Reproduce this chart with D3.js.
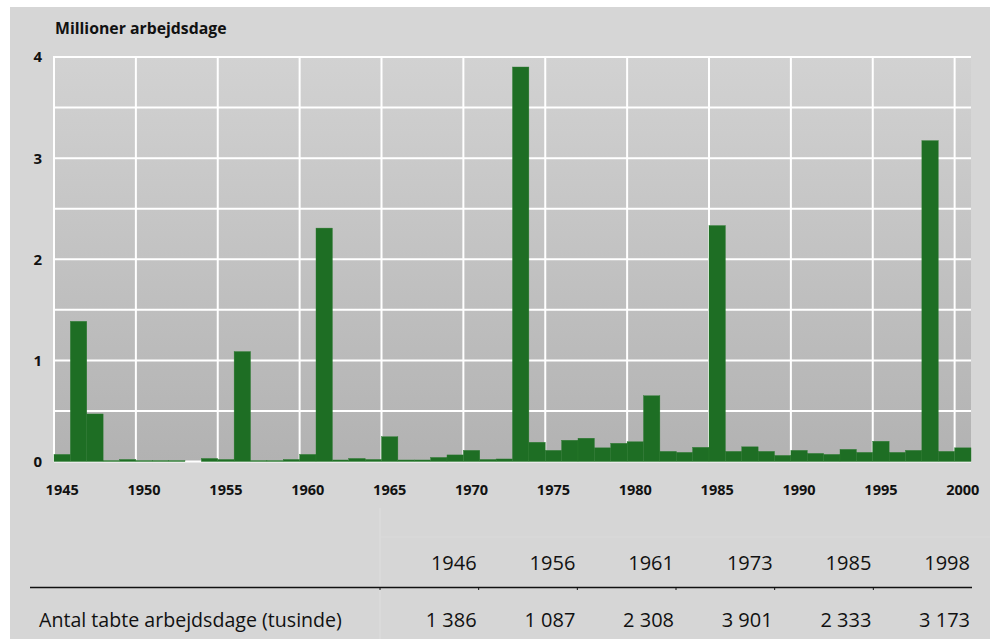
<!DOCTYPE html>
<html>
<head>
<meta charset="utf-8">
<script src="https://cdn.jsdelivr.net/npm/d3@7"></script>
<style>
  body { margin: 0; background: #fff; }
  svg { display: block; font-family: "Open Sans", sans-serif; }
</style>
</head>
<body>
<svg id="chart" width="996" height="639"></svg>
<script>
// tabte arbejdsdage, mio., 1945-2000
var years = d3.range(1945, 2001);
var values = [
  0.07, 1.386, 0.47, 0.01, 0.02, 0.01, 0.01, 0.01, 0, 0.03,
  0.02, 1.087, 0.01, 0.01, 0.02, 0.07, 2.308, 0.015, 0.03, 0.02,
  0.245, 0.015, 0.015, 0.04, 0.065, 0.11, 0.02, 0.025, 3.901, 0.19,
  0.11, 0.21, 0.23, 0.135, 0.18, 0.195, 0.65, 0.10, 0.09, 0.14,
  2.333, 0.10, 0.145, 0.10, 0.06, 0.11, 0.08, 0.07, 0.12, 0.09,
  0.20, 0.09, 0.11, 3.173, 0.10, 0.135
];
var xTicks = d3.range(1945, 2001, 5);
var yTicks = [0, 1, 2, 3, 4];
var yGrid = d3.range(0, 4.01, 0.5);

var tableYears = [1946, 1956, 1961, 1973, 1985, 1998];
var tableValues = [1386, 1087, 2308, 3901, 2333, 3173];
var rowLabel = "Antal tabte arbejdsdage (tusinde)";

var svg = d3.select("#chart");
var green = "#1e6e24";

var x = d3.scaleLinear().domain([1945, 2001]).range([54, 971]);
var y = d3.scaleLinear().domain([0, 4]).range([461.5, 57]);

// baggrund
svg.append("rect")
  .attr("x", 10).attr("y", 7).attr("width", 980).attr("height", 632)
  .attr("fill", "#d6d6d6");

var grad = svg.append("defs").append("linearGradient")
  .attr("id", "plotbg").attr("x1", 0).attr("y1", 0).attr("x2", 0).attr("y2", 1);
grad.append("stop").attr("offset", "0%").attr("stop-color", "#d2d2d2");
grad.append("stop").attr("offset", "100%").attr("stop-color", "#b2b2b2");

svg.append("rect")
  .attr("x", x(1945)).attr("y", y(4))
  .attr("width", x(2001) - x(1945)).attr("height", y(0) - y(4))
  .attr("fill", "url(#plotbg)");

// gitter
svg.append("g").selectAll("line").data(yGrid).enter().append("line")
  .attr("x1", x(1945)).attr("x2", x(2001))
  .attr("y1", function(d) { return y(d); })
  .attr("y2", function(d) { return y(d); })
  .attr("stroke", "#fff").attr("stroke-width", 2);

svg.append("g").selectAll("line").data(xTicks).enter().append("line")
  .attr("x1", function(d) { return x(d); })
  .attr("x2", function(d) { return x(d); })
  .attr("y1", y(4) - 1).attr("y2", y(0))
  .attr("stroke", "#fff").attr("stroke-width", 2);

// søjler
svg.append("g").selectAll("rect").data(values).enter().append("rect")
  .attr("x", function(d, i) { return x(years[i]); })
  .attr("width", x(1946) - x(1945))
  .attr("y", function(d) { return y(d); })
  .attr("height", function(d) { return y(0) - y(d); })
  .attr("fill", green)
  .attr("stroke", "#2b7a30").attr("stroke-width", 0.4);

// akser
svg.append("g").selectAll("text").data(xTicks).enter().append("text")
  .attr("x", function(d) { return x(d + 0.5); })
  .attr("y", 495)
  .attr("text-anchor", "middle")
  .attr("font-size", 14.5).attr("font-weight", "bold").attr("fill", "#111")
  .text(function(d) { return d; });

svg.append("g").selectAll("text").data(yTicks).enter().append("text")
  .attr("x", 42)
  .attr("y", function(d) { return y(d); })
  .attr("dy", "0.36em")
  .attr("text-anchor", "end")
  .attr("font-size", 15).attr("font-weight", "bold").attr("fill", "#111")
  .text(function(d) { return d; });

svg.append("text")
  .attr("x", 55).attr("y", 34)
  .attr("font-size", 15.8).attr("font-weight", "bold").attr("fill", "#111")
  .text("Millioner arbejdsdage");

// tabel
var fmt = d3.formatLocale({ decimal: ",", thousands: " ", grouping: [3], currency: ["", " kr."] }).format(",d");
var col = d3.scaleBand().domain(tableYears).range([380, 972]);

svg.append("line")
  .attr("x1", 380).attr("x2", 380).attr("y1", 508).attr("y2", 639)
  .attr("stroke", "#dedede").attr("stroke-width", 1);
svg.append("line")
  .attr("x1", 380).attr("x2", 990).attr("y1", 537).attr("y2", 537)
  .attr("stroke", "#dadada").attr("stroke-width", 1);

svg.append("line")
  .attr("x1", 30).attr("x2", 972).attr("y1", 587.5).attr("y2", 587.5)
  .attr("stroke", "#111").attr("stroke-width", 1.3);

svg.append("g").selectAll("line").data(tableYears).enter().append("line")
  .attr("x1", function(d) { return col(d); })
  .attr("x2", function(d) { return col(d); })
  .attr("y1", 587).attr("y2", 590)
  .attr("stroke", "#111").attr("stroke-width", 1);

svg.append("g").selectAll("text").data(tableYears).enter().append("text")
  .attr("x", function(d) { return col(d) + col.bandwidth() - 2; })
  .attr("y", 570)
  .attr("text-anchor", "end")
  .attr("font-size", 20).attr("fill", "#111")
  .text(function(d) { return d; });

svg.append("g").selectAll("text").data(tableValues).enter().append("text")
  .attr("x", function(d, i) { return col(tableYears[i]) + col.bandwidth() - 2; })
  .attr("y", 627)
  .attr("text-anchor", "end")
  .attr("font-size", 20).attr("fill", "#111")
  .text(function(d) { return fmt(d); });

svg.append("text")
  .attr("x", 39).attr("y", 627)
  .attr("font-size", 19.6).attr("fill", "#111")
  .text(rowLabel);
</script>
</body>
</html>
